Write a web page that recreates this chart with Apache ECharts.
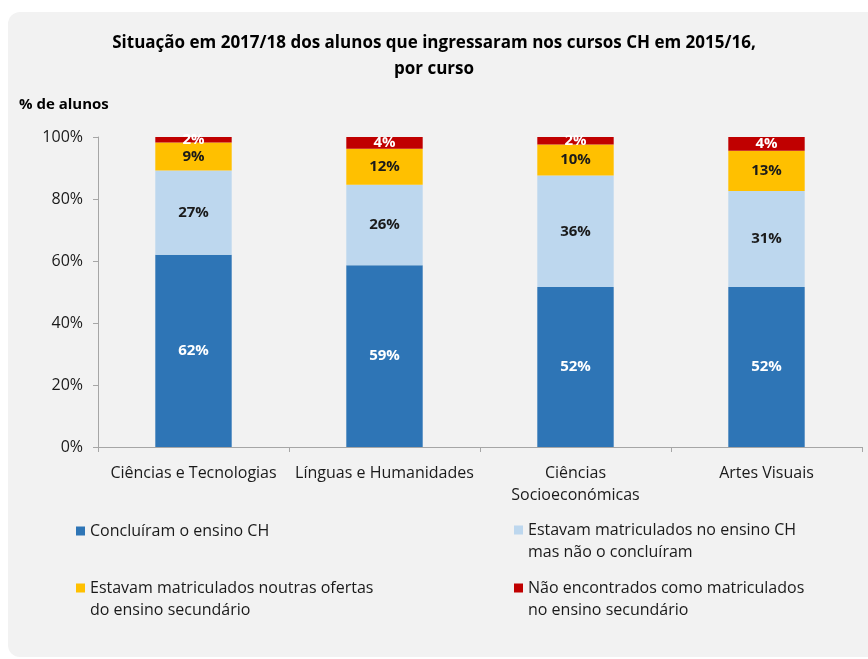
<!DOCTYPE html>
<html>
<head>
<meta charset="utf-8">
<script src="https://cdn.jsdelivr.net/npm/echarts@6/dist/echarts.min.js"></script>
<style>
html,body{margin:0;padding:0;background:#fff;}
#chart{width:868px;height:659px;}
</style>
</head>
<body>
<div id="chart"></div>
<script>
var categories = ['Ciências e Tecnologias', 'Línguas e Humanidades', 'Ciências\nSocioeconómicas', 'Artes Visuais'];
var seriesNames = [
  'Concluíram o ensino CH',
  'Estavam matriculados no ensino CH\nmas não o concluíram',
  'Estavam matriculados noutras ofertas\ndo ensino secundário',
  'Não encontrados como matriculados\nno ensino secundário'
];
var concluiram = [62, 58.6, 51.6, 51.6];
var matriculadosCH = [27.2, 26, 36, 31];
var outrasOfertas = [9, 11.6, 10, 13];
var naoEncontrados = [1.8, 3.8, 2.4, 4.4];
var yTicks = [0, 20, 40, 60, 80, 100];

var FONT = "'Open Sans', sans-serif";
var colors = ['#2e75b6', '#bdd7ee', '#ffc000', '#c00000'];
var labelColors = ['#ffffff', '#1a1a1a', '#1a1a1a', '#ffffff'];
var dataSets = [concluiram, matriculadosCH, outrasOfertas, naoEncontrados];

var chart = echarts.init(document.getElementById('chart'), null, {renderer: 'canvas'});

var series = dataSets.map(function (d, i) {
  return {
    name: seriesNames[i],
    type: 'bar',
    stack: 'total',
    barWidth: '40%',
    data: d,
    itemStyle: {color: colors[i]},
    label: {
      show: true,
      position: 'inside',
      color: labelColors[i],
      fontFamily: FONT,
      fontWeight: 'bold',
      fontSize: 15,
      formatter: function (p) { return Math.round(p.value) + '%'; }
    }
  };
});

function legendAt(idx, left, top, multi) {
  return {
    data: [seriesNames[idx]],
    left: left,
    top: top,
    orient: 'vertical',
    padding: 0,
    itemWidth: 9,
    itemHeight: 9,
    itemGap: 0,
    icon: 'rect',
    selectedMode: false,
    formatter: function (name) { return multi ? '\n' + name : name; },
    textStyle: {
      fontFamily: FONT,
      fontSize: 16,
      color: '#1a1a1a',
      lineHeight: 22
    }
  };
}

var option = {
  backgroundColor: '#ffffff',
  animation: false,
  graphic: [{
    type: 'rect',
    z: -10,
    silent: true,
    shape: {x: 8, y: 12, width: 900, height: 645, r: 12},
    style: {fill: '#f2f2f2'}
  }],
  title: [{
    text: 'Situação em 2017/18 dos alunos que ingressaram nos cursos CH em 2015/16,\npor curso',
    left: 'center',
    top: 25,
    textStyle: {fontFamily: FONT, fontWeight: 'bold', fontSize: 17, color: '#000', lineHeight: 26}
  }, {
    text: '% de alunos',
    left: 14,
    top: 92,
    textStyle: {fontFamily: FONT, fontWeight: 'bold', fontSize: 15, color: '#000'}
  }],
  legend: [
    legendAt(0, 76, 520, false),
    legendAt(1, 514, 497, true),
    legendAt(2, 76, 555, true),
    legendAt(3, 514, 555, true)
  ],
  grid: {left: 98, right: 6, top: 137, bottom: 212, containLabel: false},
  xAxis: {
    type: 'category',
    data: categories,
    axisLine: {lineStyle: {color: '#a6a6a6'}},
    axisTick: {show: true, alignWithLabel: false, length: 5, lineStyle: {color: '#a6a6a6'}},
    axisLabel: {fontFamily: FONT, fontSize: 16, color: '#1a1a1a', margin: 15, lineHeight: 22, interval: 0}
  },
  yAxis: {
    type: 'value',
    min: 0,
    max: 100,
    interval: 20,
    axisLine: {show: true, lineStyle: {color: '#a6a6a6'}},
    axisTick: {show: true, length: 5, lineStyle: {color: '#a6a6a6'}},
    splitLine: {show: false},
    axisLabel: {
      fontFamily: FONT, fontSize: 16, color: '#1a1a1a', margin: 15,
      formatter: function (v) { return yTicks.indexOf(v) >= 0 ? v + '%' : ''; }
    }
  },
  series: series
};
chart.setOption(option);
</script>
</body>
</html>
